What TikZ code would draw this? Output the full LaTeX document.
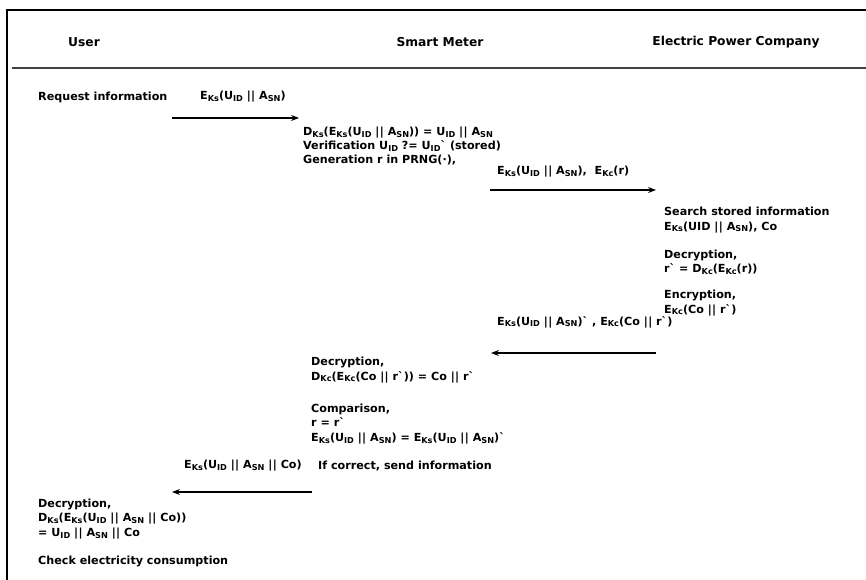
\documentclass[tikz,border=0pt]{standalone}
\usepackage{fontspec}
\setmainfont{DejaVu Sans}
\usetikzlibrary{arrows.meta}
\newcommand\sbs[1]{\raisebox{-0.3ex}{\fontsize{8.2}{8}\selectfont #1}}
\newcommand\gr{\textasciigrave}
\newcommand\bars{|\kern0.3pt|}
\tikzset{
  txt/.style={anchor=west, inner sep=0pt, align=left, font=\fontsize{11.2}{14.3}\selectfont\bfseries},
  hdr/.style={anchor=center, inner sep=0pt, font=\fontsize{12.3}{13}\selectfont\bfseries},
  msg/.style={-{Stealth[length=8bp,width=6bp]}, line width=1.1bp},
}
\begin{document}
\begin{tikzpicture}[x=1bp,y=-1bp]
\useasboundingbox (0,0) rectangle (866,580);
% frame
\draw[line width=2.2bp] (6,10) -- (866,10);
\draw[line width=2.2bp] (7,9) -- (7,580);
\draw[line width=1.5bp, black!75] (12,68) -- (866,68);
% headers
\node[hdr] (hU) at (84,42) {User};
\node[hdr] (hS) at (440,42) {Smart Meter};
\node[hdr] (hE) at (736,42) {Electric Power Company};
% step 1
\node[txt] (req) at (38,97) {Request information};
\node[txt] (l1) at (200,97) {E\sbs{Ks}(U\sbs{ID} \bars{} A\sbs{SN})};
\coordinate (a1s) at (172,118);
\coordinate (a1e) at (299,118);
\draw[msg] (a1s) -- (a1e);
\node[txt] (sm1) at (303,146) {D\sbs{Ks}(E\sbs{Ks}(U\sbs{ID} \bars{} A\sbs{SN})) = U\sbs{ID} \bars{} A\sbs{SN}\\
Verification U\sbs{ID} ?= U\sbs{ID}\gr\ (stored)\\
Generation r in PRNG(·),};
% step 2
\node[txt] (l2) at (497,172) {E\sbs{Ks}(U\sbs{ID} \bars{} A\sbs{SN}),\ \ E\sbs{Kc}(r)};
\coordinate (a2s) at (490,190);
\coordinate (a2e) at (656,190);
\draw[msg] (a2s) -- (a2e);
\node[txt] (ep1) at (664,220) {Search stored information\\ E\sbs{Ks}(UID \bars{} A\sbs{SN}), Co};
\node[txt] (ep2) at (664,262) {Decryption,\\ r\gr\ = D\sbs{Kc}(E\sbs{Kc}(r))};
\node[txt] (ep3) at (664,303) {Encryption,\\ E\sbs{Kc}(Co \bars{} r\gr)};
% step 3
\node[txt] (l3) at (497,322) {E\sbs{Ks}(U\sbs{ID} \bars{} A\sbs{SN})\gr\ , E\sbs{Kc}(Co \bars{} r\gr)};
\coordinate (a3s) at (656,353);
\coordinate (a3e) at (491,353);
\draw[msg] (a3s) -- (a3e);
\node[txt] (sm2) at (311,370) {Decryption,\\ D\sbs{Kc}(E\sbs{Kc}(Co \bars{} r\gr)) = Co \bars{} r\gr};
\node[txt] (sm3) at (311,424) {Comparison,\\ r = r\gr\\ E\sbs{Ks}(U\sbs{ID} \bars{} A\sbs{SN}) = E\sbs{Ks}(U\sbs{ID} \bars{} A\sbs{SN})\gr};
% step 4
\node[txt] (l4) at (184,466) {E\sbs{Ks}(U\sbs{ID} \bars{} A\sbs{SN} \bars{} Co)};
\node[txt] (sm4) at (318,466) {If correct, send information};
\coordinate (a4s) at (312,492);
\coordinate (a4e) at (172,492);
\draw[msg] (a4s) -- (a4e);
\node[txt] (u1) at (38,519) {Decryption,\\ D\sbs{Ks}(E\sbs{Ks}(U\sbs{ID} \bars{} A\sbs{SN} \bars{} Co))\\ = U\sbs{ID} \bars{} A\sbs{SN} \bars{} Co};
\node[txt] (u2) at (38,561) {Check electricity consumption};
\end{tikzpicture}
\end{document}
